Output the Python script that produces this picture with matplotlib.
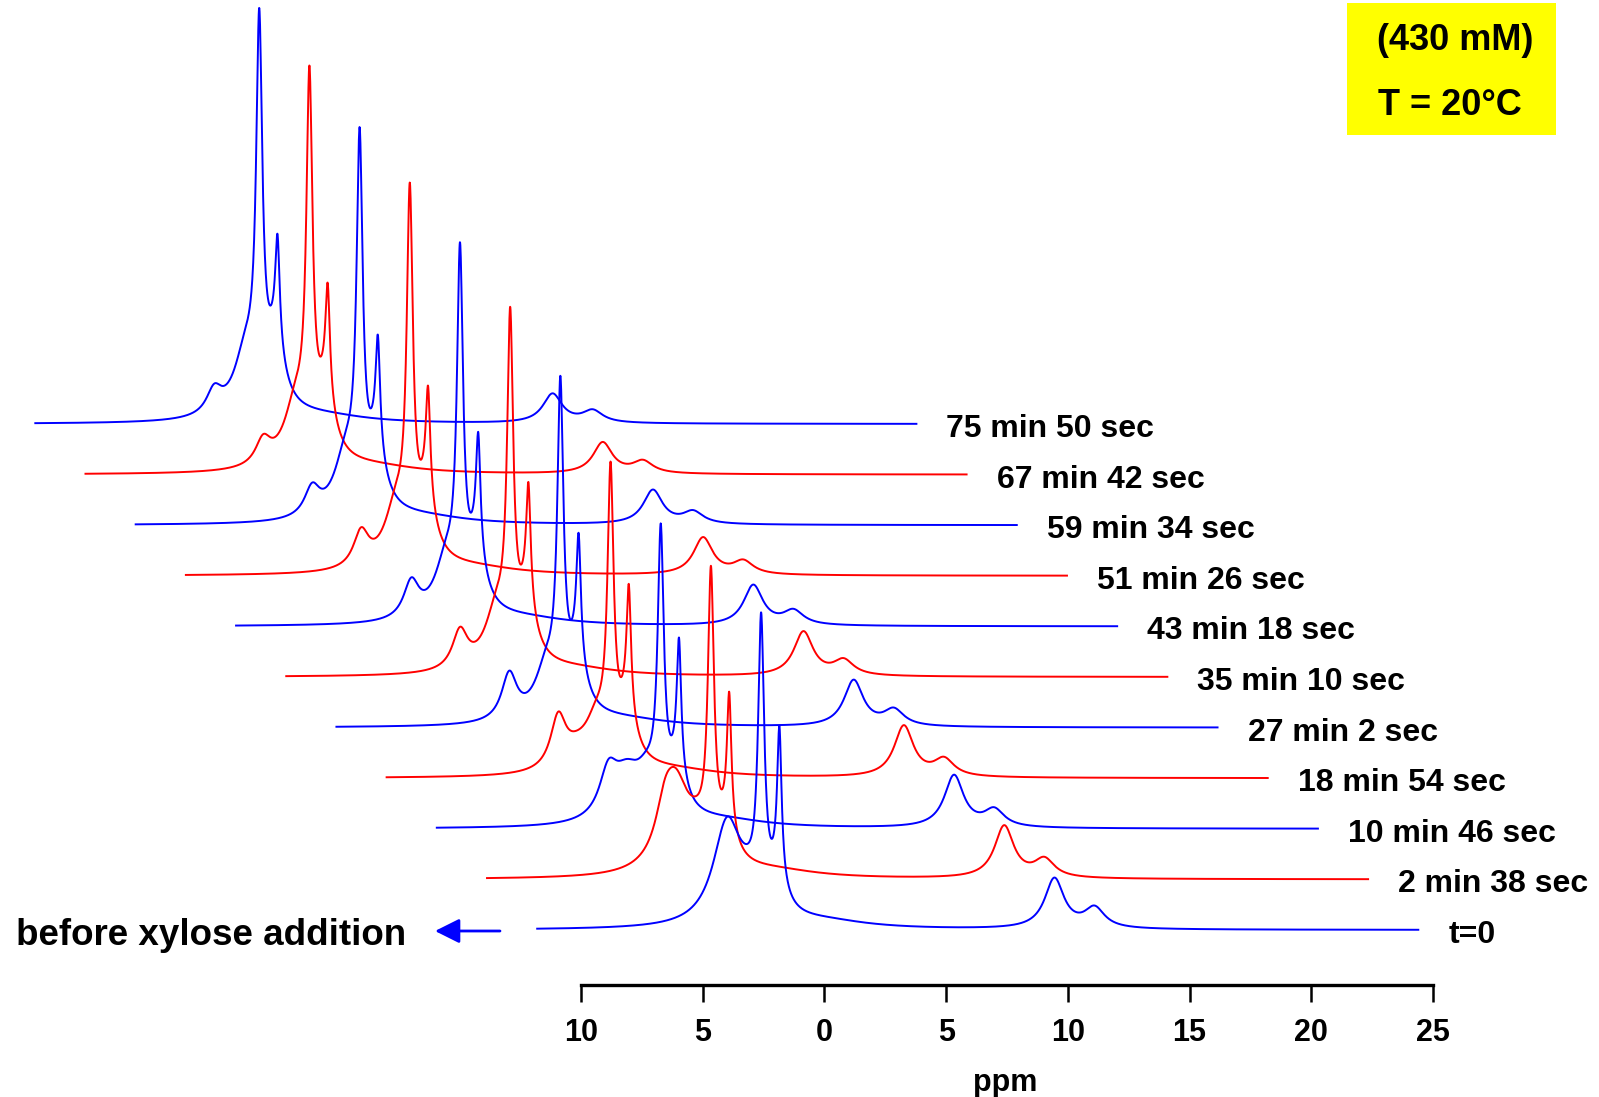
import numpy as np
import matplotlib
matplotlib.use("Agg")
import matplotlib.pyplot as plt
from matplotlib.patches import Rectangle

# ---------------------------------------------------------------------------
# Data: time-resolved spectra, first acquisition at the bottom
# ---------------------------------------------------------------------------
labels = ["t=0", "2 min 38 sec", "10 min 46 sec", "18 min 54 sec",
          "27 min 2 sec", "35 min 10 sec", "43 min 18 sec", "51 min 26 sec",
          "59 min 34 sec", "67 min 42 sec", "75 min 50 sec"]

# spectral window of every acquisition (ppm)
ppm_window = (11.8, -24.4)

# Lorentzian peak parameters, one value per spectrum (ppm, height a.u., half width ppm)
# broad line near 4 ppm that fades after the addition
a1_ppm = [4.00, 4.05, 4.00, 4.00, 4.00, 4.00, 4.00, 4.00, 4.00, 4.00, 4.00]
a1_h   = [100, 80, 40, 15, 0, 0, 0, 0, 0, 0, 0]
a1_w   = [0.70, 0.70, 0.70, 0.70, 0.70, 0.70, 0.70, 0.70, 0.70, 0.70, 0.70]
# neighbouring broad line that grows in
a2_ppm = [4.80, 4.50, 4.75, 4.75, 4.70, 4.66, 4.60, 4.60, 4.55, 4.50, 4.45]
a2_h   = [0, 35, 43, 50, 46, 38, 36, 35, 28, 25, 24]
a2_w   = [0.38, 0.45, 0.45, 0.38, 0.38, 0.38, 0.38, 0.38, 0.38, 0.38, 0.38]
# broad feet under the sharp doublet
w1_ppm = [3.15] * 11
w1_h   = [20, 25, 35, 45, 50, 55, 55, 58, 60, 60, 60]
w1_w   = [0.60] * 11
w2_ppm = [1.95] * 11
w2_h   = [30, 32, 40, 50, 55, 58, 58, 60, 60, 60, 60]
w2_w   = [0.45] * 11
# sharp doublet
b1_ppm = [2.60] * 11
b1_h   = [271, 267, 258, 266, 300, 315, 329, 336, 340, 351, 358]
b1_w   = [0.15] * 11
b2_ppm = [1.85] * 11
b2_h   = [148, 130, 128, 122, 117, 113, 112, 105, 105, 106, 104]
b2_w   = [0.11] * 11
# upfield pair
c_ppm  = [-9.45] * 11
c_h    = [50, 52, 52, 51, 46, 44, 40, 37, 34, 31, 29]
c_w    = [0.48] * 11
d_ppm  = [-11.1] * 11
d_h    = [20, 18, 17, 17, 16, 15, 14, 13, 12, 12, 12]
d_w    = [0.50] * 11
# very broad background hump
h_ppm  = [0.0] * 11
h_h    = [7] * 11
h_w    = [2.2] * 11

tick_values = [10, 5, 0, -5, -10, -15, -20, -25]
tick_labels = ["10", "5", "0", "5", "10", "15", "20", "25"]

# ---------------------------------------------------------------------------
# Layout of the stack
# ---------------------------------------------------------------------------
W_PX, H_PX = 1599, 1097
PX_PER_PPM = 24.34
X_AT_10PPM = 581.0
shift_ppm = 2.062          # horizontal shift between successive spectra
shift_y = 50.6             # vertical shift between successive spectra
base_y = H_PX - 930.0      # baseline of the first spectrum
axis_y = H_PX - 985.0      # position of the ppm axis line


def px_to_ppm(px):
    return 10.0 - (px - X_AT_10PPM) / PX_PER_PPM


def lorentz(x, c, h, w):
    return h / (1.0 + ((x - c) / w) ** 2)


plt.rcParams["font.family"] = ["Liberation Sans", "DejaVu Sans"]
plt.rcParams["font.weight"] = "bold"

fig = plt.figure(figsize=(W_PX / 100, H_PX / 100), dpi=100)
ax = fig.add_axes([0, 0, 1, 1])
ax.set_xlim(px_to_ppm(0), px_to_ppm(W_PX))
ax.set_ylim(0, H_PX)
ax.patch.set_visible(False)

x = np.linspace(ppm_window[0], ppm_window[1], 4000)
components = [
    (a1_ppm, a1_h, a1_w), (a2_ppm, a2_h, a2_w),
    (w1_ppm, w1_h, w1_w), (w2_ppm, w2_h, w2_w),
    (b1_ppm, b1_h, b1_w), (b2_ppm, b2_h, b2_w),
    (c_ppm, c_h, c_w), (d_ppm, d_h, d_w), (h_ppm, h_h, h_w),
]

n = len(labels)
for i in reversed(range(n)):
    y = np.zeros_like(x)
    for pos, hgt, wid in components:
        y += lorentz(x, pos[i], hgt[i], wid[i])
    color = "#0000ff" if i % 2 == 0 else "#ff0000"
    ax.plot(x + i * shift_ppm, y + base_y + i * shift_y, color=color, lw=1.4,
            solid_joinstyle="round")
    ax.text(ppm_window[1] + i * shift_ppm - 30 / PX_PER_PPM,
            base_y + i * shift_y - 13, labels[i],
            ha="left", va="baseline", fontsize=23, fontweight="bold")

# ppm axis
for side in ("left", "right", "top"):
    ax.spines[side].set_visible(False)
ax.spines["bottom"].set_position(("data", axis_y))
ax.spines["bottom"].set_bounds(tick_values[-1], tick_values[0])
ax.spines["bottom"].set_linewidth(2.4)
ax.set_yticks([])
ax.set_xticks(tick_values)
ax.set_xticklabels(tick_labels)
ax.tick_params(axis="x", direction="out", length=12, width=1.8, pad=12,
               labelsize=22)
for lbl in ax.get_xticklabels():
    lbl.set_fontweight("bold")
ax.text(px_to_ppm(1005), H_PX - 1083, "ppm", ha="center", va="center",
        fontsize=22, fontweight="bold")

# annotation for the first spectrum
ax.text(px_to_ppm(16), H_PX - 945, "before xylose addition", ha="left",
        va="baseline", fontsize=26.5, fontweight="bold")
ax.annotate("", xy=(px_to_ppm(435), H_PX - 931), xytext=(px_to_ppm(500), H_PX - 931),
            arrowprops=dict(arrowstyle="-|>,head_length=0.6,head_width=0.3",
                            color="#0000ff", lw=2, mutation_scale=25,
                            shrinkA=0, shrinkB=0))

# sample conditions box
fig.patches.append(Rectangle((1347 / W_PX, 1 - 135 / H_PX), 209 / W_PX, 132 / H_PX,
                             transform=fig.transFigure, facecolor="#ffff00",
                             edgecolor="none", zorder=0))
fig.text(1455 / W_PX, 1 - 50 / H_PX, "(430 mM)", ha="center", va="baseline",
         fontsize=26, fontweight="bold")
fig.text(1450 / W_PX, 1 - 115 / H_PX, "T = 20\u00b0C", ha="center", va="baseline",
         fontsize=26, fontweight="bold")

fig.savefig("out.png", dpi=100)
